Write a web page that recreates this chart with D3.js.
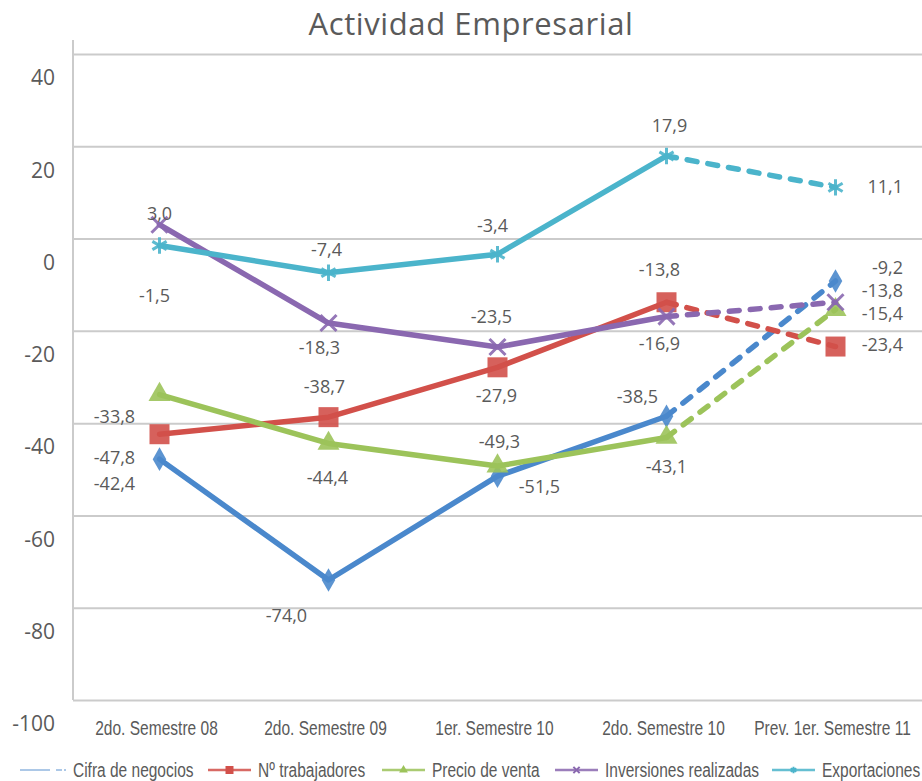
<!DOCTYPE html>
<html>
<head>
<meta charset="utf-8">
<style>
body { margin: 0; background: #fff; }
.narrow { font-family: "Liberation Sans", Arial, sans-serif; }
.wide { font-family: "Open Sans", "Noto Sans", sans-serif; }
</style>
</head>
<body>
<svg width="922" height="781"></svg>
<script src="https://cdn.jsdelivr.net/npm/d3@7"></script>
<script>
// data
var categories = ["2do. Semestre 08", "2do. Semestre 09", "1er. Semestre 10", "2do. Semestre 10", "Prev. 1er. Semestre 11"];
var seriesNames = ["Cifra de negocios", "Nº trabajadores", "Precio de venta", "Inversiones realizadas", "Exportaciones"];
var cifraNegocios = [-47.8, -74.0, -51.5, -38.5, -9.2];
var trabajadores = [-42.4, -38.7, -27.9, -13.8, -23.4];
var precioVenta = [-33.8, -44.4, -49.3, -43.1, -15.4];
var inversiones = [3.0, -18.3, -23.5, -16.9, -13.8];
var exportaciones = [-1.5, -7.4, -3.4, 17.9, 11.1];
var yTicks = [40, 20, 0, -20, -40, -60, -80, -100];

var colors = ["#4a88cc", "#d2504a", "#9cc35a", "#8a68b0", "#4bb4cb"];
var shapes = ["diamond", "square", "triangle", "x", "asterisk"];

// label placement (dx, dy from the point; "r" = right aligned column)
var labelOffsets = [
  [[-45, 0], [-42, 37], [42, 12], [-29, -18], ["r", -12]],
  [[-45, 51], [-4, -29], [-1, 30], [-7, -31], ["r", 0]],
  [[-45, 24], [-1, 36], [2, -23], [0, 31], ["r", 6]],
  [[0, -10], [-9, 26], [-6, -29], [-7, 29], ["r", -10]],
  [[-5, 52], [-2, -22], [-5, -27], [3, -29], ["r", 1]]
];

var allSeries = [cifraNegocios, trabajadores, precioVenta, inversiones, exportaciones];

var svg = d3.select("svg"),
    gridColor = "#cbcbcb",
    textColor = "#5a5a5a";

var x = d3.scaleBand()
    .domain(categories)
    .range([75, 920]);

var y = d3.scaleLinear()
    .domain([-100, 40])
    .range([700, 54]);

var fmt = function(v) { return d3.format(".1f")(v).replace(".", ",").replace("−", "-"); };

// title
svg.append("text")
    .attr("class", "wide")
    .attr("x", 471)
    .attr("y", 35)
    .attr("text-anchor", "middle")
    .attr("font-size", 31)
    .attr("letter-spacing", 0.6)
    .attr("fill", textColor)
    .text("Actividad Empresarial");

// gridlines
svg.append("g")
    .attr("transform", "translate(73,0)")
    .call(d3.axisLeft(y).tickValues(yTicks).tickSize(-849).tickFormat(""))
    .call(function(g) {
      g.select(".domain").remove();
      g.selectAll("line").attr("stroke", gridColor).attr("stroke-width", 2);
    });

// y axis line
svg.append("line")
    .attr("x1", 73).attr("x2", 73)
    .attr("y1", 40).attr("y2", y(-100))
    .attr("stroke", gridColor)
    .attr("stroke-width", 2);

// y tick labels (sit a bit under their gridlines, as in the original)
svg.append("g")
    .attr("transform", "translate(55,0)")
    .call(d3.axisLeft(y).tickValues(yTicks).tickSize(0).tickPadding(0)
      .tickFormat(function(d) { return String(d); }))
    .call(function(g) {
      g.select(".domain").remove();
      g.selectAll("text")
        .attr("class", "wide")
        .attr("font-size", 21)
        .attr("fill", textColor)
        .attr("dy", "0.32em")
        .attr("y", 24);
    });

// x labels (condensed look: squeeze horizontally)
svg.append("g")
    .attr("transform", "translate(0,700)")
    .call(d3.axisBottom(x).tickSize(0).tickPadding(0))
    .call(function(g) {
      g.select(".domain").remove();
      g.selectAll("text")
        .attr("class", "narrow")
        .attr("font-size", 21)
        .attr("fill", textColor)
        .attr("dy", "0")
        .attr("y", 0)
        .attr("transform", "translate(-3,35) scale(0.74,1)");
    });

function symbolPath(shape, big) {
  var k = big ? 1 : 0.4;
  if (shape === "diamond") return d3.symbol(d3.symbolDiamond, 160 * k * k)();
  if (shape === "square") return d3.symbol(d3.symbolSquare, 400 * k * k)();
  if (shape === "triangle") return d3.symbol(d3.symbolTriangle, 210 * k * k)();
  if (shape === "x") return d3.symbol(d3.symbolX, 170 * k * k)();
  return d3.symbol(d3.symbolAsterisk, 190 * k * k)();
}

function cx(i) { return x(categories[i]) + x.bandwidth() / 2; }

var line = d3.line()
    .x(function(d) { return cx(d.i); })
    .y(function(d) { return y(d.v); });

allSeries.forEach(function(vals, s) {
  var pts = vals.map(function(v, i) { return {i: i, v: v}; });
  var g = svg.append("g");

  // solid part
  g.append("path")
      .datum(pts.slice(0, 4))
      .attr("d", line)
      .attr("fill", "none")
      .attr("stroke", colors[s])
      .attr("stroke-width", 5.5)
      .attr("stroke-linejoin", "round")
      .attr("stroke-linecap", "round");

  // forecast part, dashed
  g.append("path")
      .datum(pts.slice(3))
      .attr("d", line)
      .attr("fill", "none")
      .attr("stroke", colors[s])
      .attr("stroke-width", 5.5)
      .attr("stroke-linecap", "round")
      .attr("stroke-dasharray", "10,11");

  var stroked = shapes[s] === "x" || shapes[s] === "asterisk";
  g.selectAll(".mk")
    .data(pts)
    .enter().append("path")
      .attr("transform", function(d) { return "translate(" + cx(d.i) + "," + y(d.v) + ")"; })
      .attr("d", symbolPath(shapes[s], true))
      .attr("fill", stroked ? "none" : colors[s])
      .attr("stroke", stroked ? colors[s] : "none")
      .attr("stroke-width", 3)
      .attr("opacity", 0.9);

  g.selectAll(".lbl")
    .data(pts)
    .enter().append("text")
      .attr("class", "wide")
      .attr("font-size", 18)
      .attr("fill", textColor)
      .attr("dominant-baseline", "middle")
      .attr("text-anchor", function(d) { return labelOffsets[s][d.i][0] === "r" ? "end" : "middle"; })
      .attr("x", function(d) {
        var o = labelOffsets[s][d.i];
        return o[0] === "r" ? 903 : cx(d.i) + o[0];
      })
      .attr("y", function(d) { return y(d.v) + labelOffsets[s][d.i][1]; })
      .text(function(d) { return fmt(d.v); });
});

// legend
var legendX = [20, 208, 382, 555, 772];
var legend = svg.append("g")
    .attr("transform", "translate(0,770)");

seriesNames.forEach(function(name, s) {
  var lg = legend.append("g").attr("transform", "translate(" + legendX[s] + ",0)");
  if (s === 0) {
    lg.append("line")
      .attr("x1", 0).attr("x2", 46)
      .attr("stroke", colors[s]).attr("stroke-width", 1.5)
      .attr("stroke-dasharray", "30,6,6,2")
      .attr("opacity", 0.6);
  } else {
    lg.append("line")
      .attr("x1", 0).attr("x2", 43)
      .attr("stroke", colors[s]).attr("stroke-width", 2.5)
      .attr("opacity", 0.85);
    var stroked = shapes[s] === "x" || shapes[s] === "asterisk";
    lg.append("path")
      .attr("transform", "translate(21.5,0)")
      .attr("d", symbolPath(shapes[s], false))
      .attr("fill", stroked ? "none" : colors[s])
      .attr("stroke", stroked ? colors[s] : "none")
      .attr("stroke-width", 2);
  }
  lg.append("text")
    .attr("class", "narrow")
    .attr("transform", "translate(" + (s === 0 ? 53 : 50) + ",0) scale(0.775,1)")
    .attr("dy", "0.35em")
    .attr("font-size", 20)
    .attr("fill", textColor)
    .text(name);
});
</script>
</body>
</html>
